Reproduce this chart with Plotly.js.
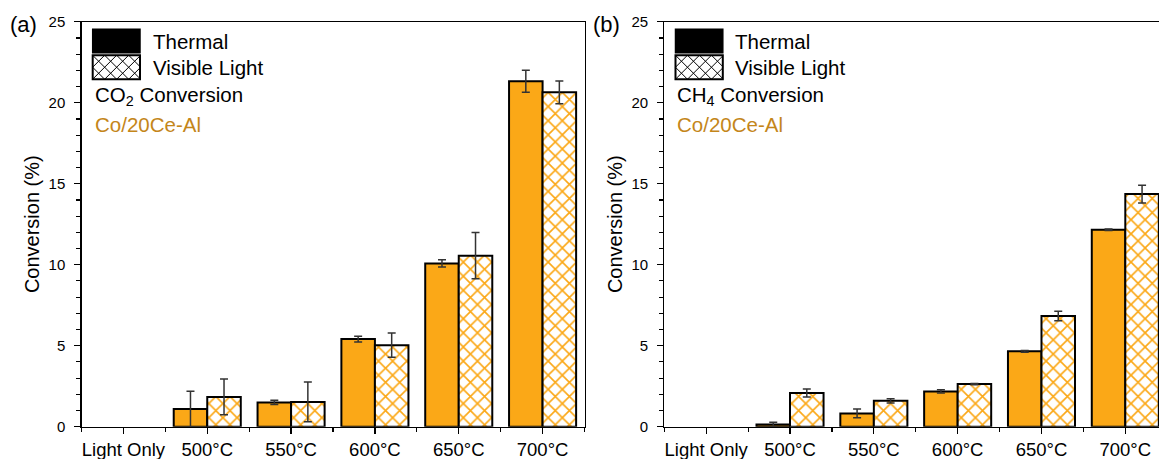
<!DOCTYPE html>
<html>
<head>
<meta charset="utf-8">
<script src="https://cdn.plot.ly/plotly-3.0.1.min.js"></script>
<style>html,body{margin:0;padding:0;background:#fff;}#chart{width:1159px;height:459px;}</style>
</head>
<body>
<div id="chart"></div>
<script>
// ---- data ----
const categories = ["Light Only", "500°C", "550°C", "600°C", "650°C", "700°C"];
const co2Thermal     = [0, 1.09, 1.50, 5.41, 10.08, 21.32];
const co2ThermalErr  = [NaN, 1.10, 0.13, 0.18, 0.22, 0.68];
const co2Visible     = [0, 1.84, 1.53, 5.03, 10.56, 20.64];
const co2VisibleErr  = [NaN, 1.10, 1.23, 0.75, 1.43, 0.70];
const ch4Thermal     = [0, 0.14, 0.82, 2.18, 4.65, 12.16];
const ch4ThermalErr  = [NaN, 0.14, 0.27, 0.10, 0.05, 0.05];
const ch4Visible     = [0, 2.08, 1.60, 2.63, 6.83, 14.36];
const ch4VisibleErr  = [NaN, 0.24, 0.13, 0.04, 0.29, 0.55];
const seriesNames = ["Thermal", "Visible Light"];

// ---- style ----
const W = 1159, H = 459;
const ORANGE = '#FBA817';
const GOLD = '#C4861A';
const FONT = 'Arial, "Liberation Sans", sans-serif';
const px = v => v / W;
const py = v => 1 - v / H;
const xIdx = categories.map((_, i) => i);

function barTrace(y, err, hatched, xa, ya, name) {
  // no outline on zero-height bars (nothing is drawn there in the reference)
  const lineW = y.map(v => (v > 0 ? 2 : 0));
  const marker = hatched
    ? {color: 'white', line: {color: 'black', width: lineW},
       pattern: {shape: 'x', fgcolor: ORANGE, bgcolor: 'white', size: 10, solidity: 0.3, fillmode: 'replace'}}
    : {color: ORANGE, line: {color: 'black', width: lineW}};
  return {
    type: 'bar', x: xIdx, y: y, name: name, xaxis: xa, yaxis: ya,
    marker: marker, showlegend: false, hoverinfo: 'skip',
    error_y: {type: 'data', array: err, visible: true, color: '#333333', thickness: 1.5, width: 4}
  };
}

const data = [
  barTrace(co2Thermal, co2ThermalErr, false, 'x', 'y', seriesNames[0]),
  barTrace(co2Visible, co2VisibleErr, true, 'x', 'y', seriesNames[1]),
  barTrace(ch4Thermal, ch4ThermalErr, false, 'x2', 'y2', seriesNames[0]),
  barTrace(ch4Visible, ch4VisibleErr, true, 'x2', 'y2', seriesNames[1])
];

const yDomain = [(H - 426.7) / H, (H - 21.7) / H];
function xAxis(domain, range) {
  return {
    domain: domain, range: range, automargin: false,
    showline: true, mirror: true, linecolor: 'black', linewidth: 1.2,
    showgrid: false, zeroline: false,
    tickmode: 'array', tickvals: xIdx, ticktext: categories,
    ticks: 'outside', ticklen: 6, tickwidth: 1.2, tickcolor: 'black',
    minor: {tick0: 0.5, dtick: 1, ticks: 'outside', ticklen: 4, tickwidth: 1.2, tickcolor: 'black'},
    tickfont: {family: FONT, size: 18.5, color: 'black'}
  };
}
function yAxis(anchor) {
  return {
    domain: yDomain, range: [0, 25], anchor: anchor, automargin: false,
    showline: true, mirror: true, linecolor: 'black', linewidth: 1.2,
    showgrid: false, zeroline: false,
    tick0: 0, dtick: 5, ticks: 'outside', ticklen: 6, tickwidth: 1.2, tickcolor: 'black',
    ticklabelstandoff: 6,
    minor: {dtick: 1, ticks: 'outside', ticklen: 4, tickwidth: 1.2, tickcolor: 'black'},
    tickfont: {family: FONT, size: 15, color: 'black'},
    title: {text: 'Conversion (%)', font: {family: FONT, size: 20, color: 'black'}, standoff: 3}
  };
}

// legend swatches & labels as shapes / annotations
const shapes = [];
const annotations = [];
function hatchPath(x0, y0, x1, y1, step) {
  let d = '';
  for (let c = x0 - y1; c <= x1 - y0; c += step) {
    const xa = Math.max(x0, y0 + c), xb = Math.min(x1, y1 + c);
    if (xb > xa) d += `M${px(xa)},${py(xa - c)}L${px(xb)},${py(xb - c)}`;
  }
  for (let c = x0 + y0; c <= x1 + y1; c += step) {
    const xa = Math.max(x0, c - y1), xb = Math.min(x1, c - y0);
    if (xb > xa) d += `M${px(xa)},${py(c - xa)}L${px(xb)},${py(c - xb)}`;
  }
  return d;
}
function panelDecor(axisX, label, convHtml) {
  const bx0 = axisX + 11.2, bx1 = axisX + 58.5;
  shapes.push({type: 'rect', xref: 'paper', yref: 'paper', x0: px(bx0), x1: px(bx1), y0: py(52.7), y1: py(29.3),
    fillcolor: 'black', line: {color: 'black', width: 1.5}});
  shapes.push({type: 'path', xref: 'paper', yref: 'paper', path: hatchPath(bx0, 55.2, bx1, 79.3, 12),
    line: {color: 'black', width: 1}});
  shapes.push({type: 'rect', xref: 'paper', yref: 'paper', x0: px(bx0), x1: px(bx1), y0: py(79.3), y1: py(55.2),
    fillcolor: 'rgba(0,0,0,0)', line: {color: 'black', width: 2}});
  const tf = {family: FONT, size: 20.5, color: 'black'};
  const ann = (x, y, text, font) => annotations.push({xref: 'paper', yref: 'paper', x: px(x), y: py(y),
    xanchor: 'left', yanchor: 'middle', text: text, showarrow: false, font: font});
  ann(axisX + 69, 41.5, seriesNames[0], tf);
  ann(axisX + 69, 67.5, seriesNames[1], tf);
  ann(axisX + 11, 96, convHtml, tf);
  ann(axisX + 11, 124, 'Co/20Ce-Al', {family: FONT, size: 20.5, color: GOLD});
  annotations.push({xref: 'paper', yref: 'paper', x: px(axisX - 58), y: py(24), xanchor: 'center', yanchor: 'middle',
    text: label, showarrow: false, font: {family: FONT, size: 22, color: 'black'}});
}
panelDecor(81.5, '(a)', 'CO<sub>2</sub> Conversion');
panelDecor(664.3, '(b)', 'CH<sub>4</sub> Conversion');

const layout = {
  width: W, height: H,
  margin: {l: 0, r: 0, t: 0, b: 0, pad: 0},
  paper_bgcolor: 'white', plot_bgcolor: 'white',
  barmode: 'group', bargap: 0.2, bargroupgap: 0,
  font: {family: FONT, color: 'black'},
  xaxis: Object.assign(xAxis([81.5 / W, 584.5 / W], [-0.5, 5.5]), {anchor: 'y'}),
  yaxis: yAxis('x'),
  xaxis2: Object.assign(xAxis([664.3 / W, 1], [-0.5, 5.402]), {anchor: 'y2'}),
  yaxis2: yAxis('x2'),
  shapes: shapes,
  annotations: annotations
};

Plotly.newPlot('chart', data, layout, {staticPlot: true, displayModeBar: false});
</script>
</body>
</html>
